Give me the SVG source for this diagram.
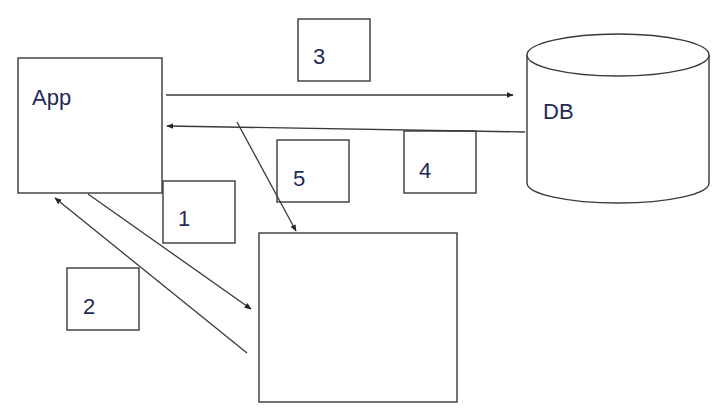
<svg xmlns="http://www.w3.org/2000/svg" width="721" height="410" viewBox="0 0 721 410">
<style>
.box{fill:none;stroke:#3a3a3a;stroke-width:1.4}
.cyl{fill:#fff;stroke:#3a3a3a;stroke-width:1.4}
.con{stroke:#3a3a3a;stroke-width:1.3;fill:none;marker-end:url(#ah)}
.lbl{font-family:"Liberation Sans",Arial,sans-serif;font-size:22px;fill:#1f2a55}
</style>
<defs>
<marker id="ah" viewBox="0 0 10 10" refX="9" refY="5" markerWidth="7" markerHeight="7" markerUnits="userSpaceOnUse" orient="auto">
<path d="M0,1 L10,5 L0,9 z" fill="#222"/>
</marker>
</defs>
<rect width="721" height="410" fill="#fff"/>
<g id="app"><rect class="box" x="18" y="58" width="144" height="135"/><text class="lbl" x="32" y="105">App</text></g>
<g id="db">
<path class="cyl" d="M527,55 V183 A91,20 0 0 0 709,183 V55"/>
<ellipse class="cyl" cx="618" cy="55" rx="91" ry="21"/>
<text class="lbl" x="543" y="119">DB</text>
</g>
<g id="target"><rect class="box" x="259" y="233" width="198" height="169"/></g>
<g id="n1"><rect class="box" x="163" y="181" width="72" height="62"/><text class="lbl" x="184" y="226" text-anchor="middle">1</text></g>
<g id="n2"><rect class="box" x="67" y="268" width="72" height="62"/><text class="lbl" x="89" y="314" text-anchor="middle">2</text></g>
<g id="n3"><rect class="box" x="298" y="19" width="72" height="62"/><text class="lbl" x="319" y="64" text-anchor="middle">3</text></g>
<g id="n4"><rect class="box" x="404" y="131" width="72" height="62"/><text class="lbl" x="425" y="178" text-anchor="middle">4</text></g>
<g id="n5"><rect class="box" x="277" y="140" width="72" height="62"/><text class="lbl" x="299" y="186" text-anchor="middle">5</text></g>
<g id="connectors">
<line class="con" x1="166" y1="95" x2="513" y2="95"/>
<line class="con" x1="525" y1="132" x2="167" y2="126"/>
<line class="con" x1="237" y1="122" x2="296" y2="231"/>
<line class="con" x1="88" y1="194" x2="251" y2="309"/>
<line class="con" x1="247" y1="353" x2="55" y2="198"/>
</g>
</svg>
